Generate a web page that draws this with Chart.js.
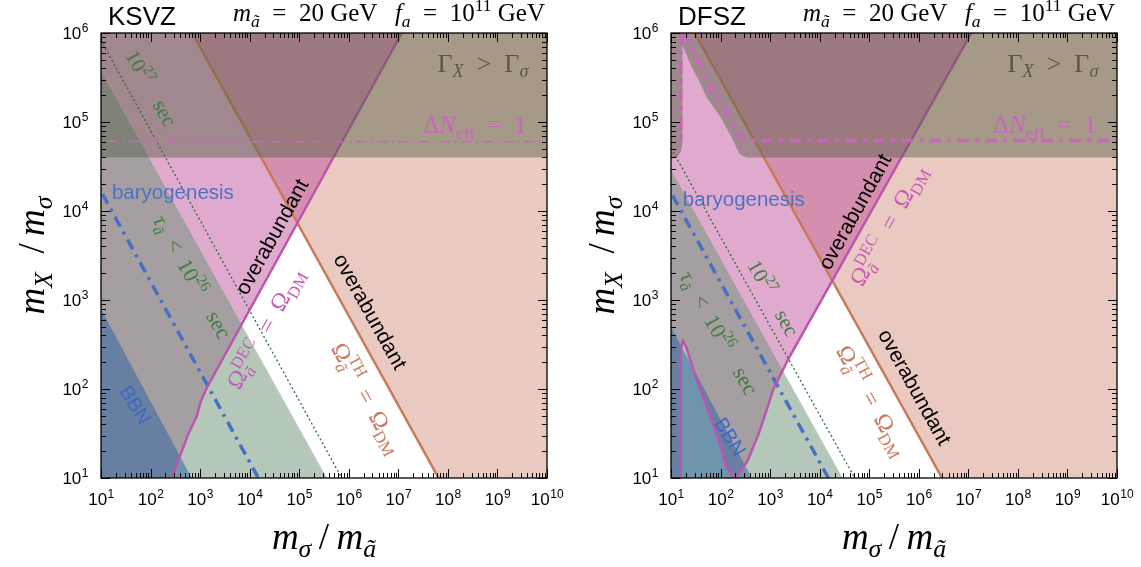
<!DOCTYPE html>
<html>
<head>
<meta charset="utf-8">
<script src="https://cdn.jsdelivr.net/npm/chart.js@4.4.1/dist/chart.umd.min.js"></script>
<style>
html, body { margin: 0; padding: 0; background: #fff; }
#wrap { position: relative; width: 1141px; height: 567px; overflow: hidden; }
canvas { position: absolute; top: 0; }
</style>
</head>
<body>
<div id="wrap">
  <canvas id="ksvz" width="570" height="567" style="left:0px"></canvas>
  <canvas id="dfsz" width="571" height="567" style="left:570px"></canvas>
</div>
<script>
const SANS = "'Liberation Sans', Arial, Helvetica, sans-serif";
const SERIF = "'Liberation Serif', 'Times New Roman', serif";

// axis decades (exponents) and mantissas for the minor ticks
const xDecades = [1, 2, 3, 4, 5, 6, 7, 8, 9, 10];
const yDecades = [1, 2, 3, 4, 5, 6];
const mantissas = [1, 2, 3, 4, 5, 6, 7, 8, 9];

// KSVZ panel: boundaries as [m_sigma/m_a, m_X/m_sigma]
const ksvzThLine = [[692, 1e6], [6.5e7, 10]];
const ksvzDecLine = [[269, 10], [389, 17.4], [562, 30.2], [851, 49], [1000, 69], [1349, 102], [1.175e7, 1e6]];
const ksvzTauEdge = [[10, 3.7e5], [3.6e5, 10]];
const ksvzBbnEdge = [[10, 794], [676, 10]];
const ksvz27Line = [[10, 8.3e5], [7.2e5, 10]];
const ksvzBaryoLine = [[10.7, 1.55e4], [1.5e4, 10]];
const ksvzGammaEdge = [[10, 4e4], [1e10, 4e4]];
const ksvzNeffLine = [[14, 6.1e4], [112, 6.1e4], [158, 6.8e4], [200, 7.1e4], [240, 6.6e4], [316, 6e4], [1e10, 6e4]];

// DFSZ panel
const dfszThLine = [[30, 1e6], [2.95e6, 10]];
const dfszDecLine = [[15.5, 10], [15.5, 158], [15.8, 282], [17.4, 347], [20, 302], [33, 126], [65, 46], [100, 23],
  [129, 13.5], [166, 11], [195, 10], [229, 11], [355, 15.8], [589, 31.6], [891, 63], [1148, 98], [2291, 214], [1.15e7, 1e6]];
const dfszTauEdge = [[10, 2.9e4], [2.9e4, 10]];
const dfszBbnEdge = [[10, 501], [427, 10]];
const dfsz27Line = [[10, 5.1e4], [5.1e4, 10]];
const dfszBaryoLine = [[10.7, 1.5e4], [1.5e4, 10]];
const dfszGammaEdge = [[10, 4e4], [13.2, 4e4], [15.8, 4.6e4], [16.8, 5.6e4], [16.8, 6.4e5], [17.2, 7.1e5], [17.8, 6.9e5],
  [24, 4.6e5], [42, 2.5e5], [52, 1.9e5], [98, 1.15e5], [166, 6.8e4], [245, 4.3e4], [339, 4e4], [1e10, 4e4]];
const dfszNeffA = [[15.8, 1e6], [15.8, 6.8e4], [14.8, 6.1e4], [12.6, 5.8e4]];
const dfszNeffB = [[17.8, 1e6], [24, 7.6e5], [38.5, 4.6e5], [61, 2.5e5], [98, 1.7e5], [166, 1.05e5], [229, 7.4e4],
  [339, 6.3e4], [537, 6.2e4], [1e10, 6.2e4]];

const colTh = 'rgba(203,120,100,0.4)';
const colDec = 'rgba(191,85,157,0.5)';
const colTau = 'rgba(113,150,122,0.53)';
const colBbn = 'rgba(35,93,160,0.47)';
const colGamma = 'rgba(87,96,66,0.45)';

function tickList(decs) {
  const out = [];
  decs.forEach((d, i) => {
    mantissas.forEach(m => {
      if (i < decs.length - 1 || m === 1) out.push(m * Math.pow(10, d));
    });
  });
  return out;
}
const xTicks = tickList(xDecades);
const yTicks = tickList(yDecades);

function isDecade(v) {
  const l = Math.log10(v);
  return Math.abs(l - Math.round(l)) < 1e-6;
}

function pts(a) { return a.map(p => ({ x: p[0], y: p[1] })); }
function poly(a, color) {
  return { data: pts(a), showLine: true, fill: 'shape', backgroundColor: color,
    borderColor: 'transparent', borderWidth: 0, pointRadius: 0 };
}
function line(a, color, width, dash) {
  return { data: pts(a), showLine: true, fill: false, borderColor: color, borderWidth: width,
    borderDash: dash || [], pointRadius: 0, borderCapStyle: 'butt' };
}

function fontOf(style, size) {
  if (style === 's') return size + 'px ' + SANS;
  return (style === 'i' ? 'italic ' : '') + size + 'px ' + SERIF;
}
function drawRich(ctx, parts, x, y, size, color, angle, align, middle) {
  ctx.save();
  ctx.translate(x, y);
  ctx.rotate(angle * Math.PI / 180);
  const segs = [];
  let w = 0;
  parts.forEach(p => {
    const [t, st, pos, over] = p;
    const s = pos ? size * 0.7 : size;
    ctx.font = fontOf(st, s);
    let pw = ctx.measureText(t).width;
    if (over) { ctx.font = fontOf('r', s); pw = Math.max(pw, ctx.measureText(over).width); }
    segs.push({ t, st, pos, over, s, x: w });
    w += pw;
  });
  const x0 = align === 'left' ? 0 : align === 'right' ? -w : -w / 2;
  const y0 = middle ? size * 0.33 : 0;
  ctx.fillStyle = color;
  ctx.textAlign = 'left';
  ctx.textBaseline = 'alphabetic';
  segs.forEach(g => {
    ctx.font = fontOf(g.st, g.s);
    const dy = g.pos === 'b' ? size * 0.22 : g.pos === 'p' ? -size * 0.42 : 0;
    ctx.fillText(g.t, x0 + g.x, y0 + dy);
    if (g.over) { ctx.font = fontOf('r', g.s); ctx.fillText(g.over, x0 + g.x, y0 - size * 0.42); }
  });
  ctx.restore();
}

// "10" with a raised exponent, used for the decade tick labels
function drawPow(ctx, v, x, y, align) {
  const e = String(Math.round(Math.log10(v)));
  ctx.font = '17px ' + SANS;
  const w1 = ctx.measureText('10').width;
  ctx.font = '12px ' + SANS;
  const w2 = ctx.measureText(e).width;
  const x0 = align === 'right' ? x - w1 - w2 : x - (w1 + w2) / 2;
  ctx.fillStyle = '#000';
  ctx.textAlign = 'left';
  ctx.textBaseline = 'alphabetic';
  ctx.font = '17px ' + SANS;
  ctx.fillText('10', x0, y);
  ctx.font = '12px ' + SANS;
  ctx.fillText(e, x0 + w1 + 0.5, y - 7);
}

const gammaText = [['Γ', 'r'], ['X', 'i', 'b'], ['\u2002>\u2002', 'r'], ['Γ', 'r'], ['σ', 'i', 'b']];
const neffText = [['Δ', 'r'], ['N', 'i'], ['eff', 'r', 'b'], ['\u2002=\u20021', 'r']];
const t27Text = [['10', 'r'], ['27', 'r', 'p'], ['\u2003sec', 'r']];
const t26Text = [['τ', 'i'], ['ã', 'i', 'b'], ['\u2002<\u200210', 'r'], ['26', 'r', 'p'], ['\u2003sec', 'r']];
const decText = [['Ω', 'r'], ['ã', 'i', 'b', 'DEC'], ['\u2002=\u2002Ω', 'r'], ['DM', 'r', 'b']];
const thText = [['Ω', 'r'], ['ã', 'i', 'b', 'TH'], ['\u2002=\u2002Ω', 'r'], ['DM', 'r', 'b']];

const panels = {
  ksvz: {
    name: 'KSVZ',
    labels: [
      { x: 5.1e8, y: 4.6e5, a: 0, size: 26, color: '#5e5838', parts: gammaText },
      { x: 3.5e8, y: 9.3e4, a: 0, size: 25, color: '#c766bb', parts: neffText },
      { x: 282, y: 1.62e4, a: 0, size: 20.5, color: '#4d72c2', parts: [['baryogenesis', 's']] },
      { x: 102, y: 2.4e5, a: 61, size: 21, color: '#3e7d3e', parts: t27Text },
      { x: 692, y: 1820, a: 61, size: 22, color: '#3e7d3e', parts: t26Text },
      { x: 49, y: 66, a: 58, size: 20, color: '#3f68c6', parts: [['BBN', 's']] },
      { x: 2.8e4, y: 5130, a: -61, size: 21, color: '#000', parts: [['overabundant', 's']] },
      { x: 2.04e4, y: 480, a: -61, size: 24, color: '#c65cb8', parts: decText },
      { x: 2.7e6, y: 741, a: 61, size: 21, color: '#000', parts: [['overabundant', 's']] },
      { x: 2.34e6, y: 79, a: 61, size: 24, color: '#c87a5c', parts: thText }
    ]
  },
  dfsz: {
    name: 'DFSZ',
    labels: [
      { x: 5.1e8, y: 4.6e5, a: 0, size: 26, color: '#5e5838', parts: gammaText },
      { x: 3.5e8, y: 9.3e4, a: 0, size: 25, color: '#c766bb', parts: neffText },
      { x: 295, y: 1.35e4, a: 0, size: 20.5, color: '#4d72c2', parts: [['baryogenesis', 's']] },
      { x: 1150, y: 1050, a: 61, size: 21, color: '#3e7d3e', parts: t27Text },
      { x: 93, y: 427, a: 61, size: 22, color: '#3e7d3e', parts: t26Text },
      { x: 155, y: 29, a: 58, size: 20, color: '#3f68c6', parts: [['BBN', 's']] },
      { x: 5.1e4, y: 9800, a: -61, size: 21, color: '#000', parts: [['overabundant', 's']] },
      { x: 2.4e5, y: 6900, a: -61, size: 24, color: '#c65cb8', parts: decText },
      { x: 8.3e5, y: 105, a: 61, size: 21, color: '#000', parts: [['overabundant', 's']] },
      { x: 1.15e5, y: 74, a: 61, size: 24, color: '#c87a5c', parts: thText }
    ]
  }
};

const panelPlugin = {
  id: 'panel',
  afterDatasetsDraw(chart) {
    const info = panels[chart.canvas.id];
    const { ctx, chartArea: ca, scales } = chart;
    ctx.save();
    // inward tick marks on all four sides
    ctx.strokeStyle = '#000';
    ctx.lineWidth = 1;
    ctx.beginPath();
    scales.x.ticks.forEach(t => {
      const px = Math.round(scales.x.getPixelForValue(t.value)) + 0.5;
      const len = isDecade(t.value) ? 9 : 5;
      ctx.moveTo(px, ca.bottom); ctx.lineTo(px, ca.bottom - len);
      ctx.moveTo(px, ca.top); ctx.lineTo(px, ca.top + len);
    });
    scales.y.ticks.forEach(t => {
      const py = Math.round(scales.y.getPixelForValue(t.value)) + 0.5;
      const len = isDecade(t.value) ? 9 : 5;
      ctx.moveTo(ca.left, py); ctx.lineTo(ca.left + len, py);
      ctx.moveTo(ca.right, py); ctx.lineTo(ca.right - len, py);
    });
    ctx.stroke();
    ctx.lineWidth = 1.3;
    ctx.strokeRect(ca.left, ca.top, ca.right - ca.left, ca.bottom - ca.top);

    // decade tick labels
    scales.x.ticks.forEach(t => {
      if (isDecade(t.value)) drawPow(ctx, t.value, scales.x.getPixelForValue(t.value), ca.bottom + 27, 'center');
    });
    scales.y.ticks.forEach(t => {
      if (isDecade(t.value)) drawPow(ctx, t.value, ca.left - 13, scales.y.getPixelForValue(t.value) + 6, 'right');
    });

    info.labels.forEach(l => {
      drawRich(ctx, l.parts, scales.x.getPixelForValue(l.x), scales.y.getPixelForValue(l.y),
        l.size, l.color, l.a, 'center', true);
    });

    // panel titles
    ctx.fillStyle = '#000';
    ctx.font = '26px ' + SANS;
    ctx.textAlign = 'left';
    ctx.textBaseline = 'alphabetic';
    ctx.fillText(info.name, ca.left + 7, 25);
    drawRich(ctx, [['m', 'i'], ['ã', 'i', 'b'], ['\u2002=\u200220 GeV', 'r']], ca.left + 132, 21, 25, '#000', 0, 'left', false);
    drawRich(ctx, [['f', 'i'], ['a', 'i', 'b'], ['\u2002=\u200210', 'r'], ['11', 'r', 'p'], [' GeV', 'r']], ca.right - 2, 21, 25, '#000', 0, 'right', false);

    // axis titles
    drawRich(ctx, [['m', 'i'], ['σ', 'i', 'b'], ['\u2009/\u2009', 'r'], ['m', 'i'], ['ã', 'i', 'b']],
      (ca.left + ca.right) / 2, 549, 37, '#000', 0, 'center', false);
    drawRich(ctx, [['m', 'i'], ['X', 'i', 'b'], ['\u2002/\u2009', 'r'], ['m', 'i'], ['σ', 'i', 'b']],
      44, (ca.top + ca.bottom) / 2, 37, '#000', -90, 'center', false);
    ctx.restore();
  }
};

function makeChart(id, d, rightPad) {
  const datasets = [
    poly(d.th.concat([[1e10, 10], [1e10, 1e6]]), colTh),
    poly(d.dec.concat([[10, 1e6], [10, 10]]), colDec),
    poly(d.tau.concat([[10, 10]]), colTau),
    poly(d.bbn.concat([[10, 10]]), colBbn),
    line(d.l27, '#2e6b34', 1.3, [2, 2.5]),
    line(d.baryo, '#4670c4', 3.5, [11, 6, 3, 6]),
    line(d.th, '#c77a55', 2.5),
    line(d.dec, '#bb56b0', 2.5),
    poly(d.gamma.concat([[1e10, 1e6], [10, 1e6]]), colGamma)
  ];
  d.neff.forEach(n => datasets.push(line(n, '#c866bd', d.neffWidth, d.neffDash)));
  datasets.forEach((ds, i) => { ds.order = 100 - i; });

  return new Chart(document.getElementById(id), {
    type: 'scatter',
    data: { datasets },
    options: {
      responsive: false,
      animation: false,
      layout: { padding: { top: 33, right: rightPad, bottom: 0, left: 0 } },
      elements: { line: { tension: 0 }, point: { radius: 0 } },
      plugins: { legend: { display: false }, tooltip: { enabled: false } },
      scales: {
        x: {
          type: 'logarithmic', min: 10, max: 1e10,
          grid: { display: false, drawTicks: false },
          border: { display: false },
          afterBuildTicks: s => { s.ticks = xTicks.map(v => ({ value: v })); },
          afterFit: s => { s.height = 89; s.paddingLeft = 0; s.paddingRight = 0; },
          ticks: { display: false, autoSkip: false, maxRotation: 0 }
        },
        y: {
          type: 'logarithmic', min: 10, max: 1e6,
          grid: { display: false, drawTicks: false },
          border: { display: false },
          afterBuildTicks: s => { s.ticks = yTicks.map(v => ({ value: v })); },
          afterFit: s => { s.width = 101; s.paddingTop = 0; s.paddingBottom = 0; },
          ticks: { display: false, autoSkip: false }
        }
      }
    },
    plugins: [panelPlugin]
  });
}

makeChart('ksvz', {
  th: ksvzThLine, dec: ksvzDecLine, tau: ksvzTauEdge, bbn: ksvzBbnEdge, l27: ksvz27Line,
  baryo: ksvzBaryoLine, gamma: ksvzGammaEdge, neff: [ksvzNeffLine], neffWidth: 1.6, neffDash: [9, 5, 2, 5]
}, 23);
makeChart('dfsz', {
  th: dfszThLine, dec: dfszDecLine, tau: dfszTauEdge, bbn: dfszBbnEdge, l27: dfsz27Line,
  baryo: dfszBaryoLine, gamma: dfszGammaEdge, neff: [dfszNeffA, dfszNeffB], neffWidth: 3.5, neffDash: [12, 6, 4, 6]
}, 24);
</script>
</body>
</html>
